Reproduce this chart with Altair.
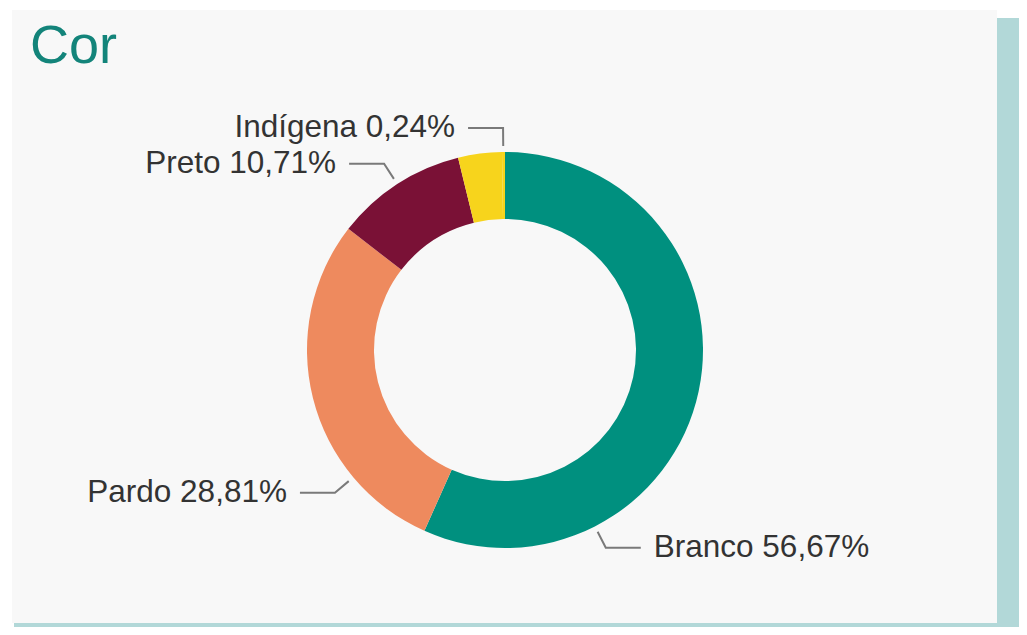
import math
import altair as alt
import pandas as pd

# ---------------- data ----------------
categorias = ["Branco", "Pardo", "Preto", "Amarelo", "Indígena"]
percentuais = [56.67, 28.81, 10.71, 3.57, 0.24]
cores = ["#00907f", "#ee8a5e", "#7a1136", "#f7d41c", "#f7d41c"]
rotulados = ["Branco", "Pardo", "Preto", "Indígena"]
titulo = "Cor"

# ---------------- layout ----------------
W, H = 1011, 619
CX, CY = 497, 342
R_OUT, R_IN = 198, 131
angulos_rotulo = {"Branco": 153, "Pardo": 230, "Preto": -33, "Indígena": -0.5}
R0, R1, HORIZ, GAP = 204, 222, 35, 13
FONT = "Liberation Sans"

df = pd.DataFrame({
    "categoria": categorias,
    "valor": percentuais,
    "ordem": list(range(len(categorias))),
})


def polar(r, a):
    rad = math.radians(a)
    return CX + r * math.sin(rad), CY - r * math.cos(rad)


linhas, textos = [], []
for cat in rotulados:
    v = percentuais[categorias.index(cat)]
    a = angulos_rotulo[cat]
    x0, y0 = polar(R0, a)
    x1, y1 = polar(R1, a)
    esquerda = x1 < CX - 5 or abs(a) < 2
    x2 = x1 - HORIZ if esquerda else x1 + HORIZ
    for i, (px, py) in enumerate([(x0, y0), (x1, y1), (x2, y1)]):
        linhas.append({"grupo": cat, "p": i, "px": px, "py": py})
    textos.append({
        "txt": f"{cat} " + f"{v:.2f}".replace(".", ",") + "%",
        "px": x2 - GAP if esquerda else x2 + GAP,
        "py": y1,
        "lado": "right" if esquerda else "left",
    })

df_l = pd.DataFrame(linhas)
df_t = pd.DataFrame(textos)
um = pd.DataFrame({"a": [0]})

sombra_dir = alt.Chart(um).mark_rect(color="#b2d8d8").encode(
    x=alt.value(989), x2=alt.value(W), y=alt.value(10), y2=alt.value(H))
sombra_inf = alt.Chart(um).mark_rect(color="#b2d8d8").encode(
    x=alt.value(6), x2=alt.value(W), y=alt.value(612), y2=alt.value(H))
painel = alt.Chart(um).mark_rect(color="#f8f8f8").encode(
    x=alt.value(4), x2=alt.value(989), y=alt.value(2), y2=alt.value(615))

rosca = alt.Chart(df).mark_arc(outerRadius=R_OUT, innerRadius=R_IN).encode(
    theta=alt.Theta("valor:Q", stack=True),
    color=alt.Color("categoria:N", scale=alt.Scale(domain=categorias, range=cores), legend=None),
    order=alt.Order("ordem:Q"),
    x=alt.value(CX), y=alt.value(CY),
)

guias = alt.Chart(df_l).mark_line(color="#7a7a7a", strokeWidth=2).encode(
    x=alt.X("px:Q", scale=None, axis=None),
    y=alt.Y("py:Q", scale=None, axis=None),
    detail="grupo:N",
    order="p:Q",
)

txt_esq = alt.Chart(df_t[df_t["lado"] == "right"]).mark_text(
    align="right", baseline="middle", font=FONT, fontSize=31.5, color="#333333").encode(
    x=alt.X("px:Q", scale=None, axis=None),
    y=alt.Y("py:Q", scale=None, axis=None),
    text="txt:N")
txt_dir = alt.Chart(df_t[df_t["lado"] == "left"]).mark_text(
    align="left", baseline="middle", font=FONT, fontSize=31.5, color="#333333").encode(
    x=alt.X("px:Q", scale=None, axis=None),
    y=alt.Y("py:Q", scale=None, axis=None),
    text="txt:N")

tit = alt.Chart(pd.DataFrame({"t": [titulo]})).mark_text(
    align="left", baseline="alphabetic", font=FONT, fontSize=54, color="#13847a").encode(
    x=alt.value(22), y=alt.value(55), text="t:N")

chart = alt.layer(sombra_dir, sombra_inf, painel, rosca, guias, txt_esq, txt_dir, tit).properties(
    width=W, height=H,
    autosize=alt.AutoSizeParams(type="none"),
    padding=0,
    background="#ffffff",
).configure_view(stroke=None)

chart.save("out.html", embed_options={"renderer": "svg", "actions": False})
